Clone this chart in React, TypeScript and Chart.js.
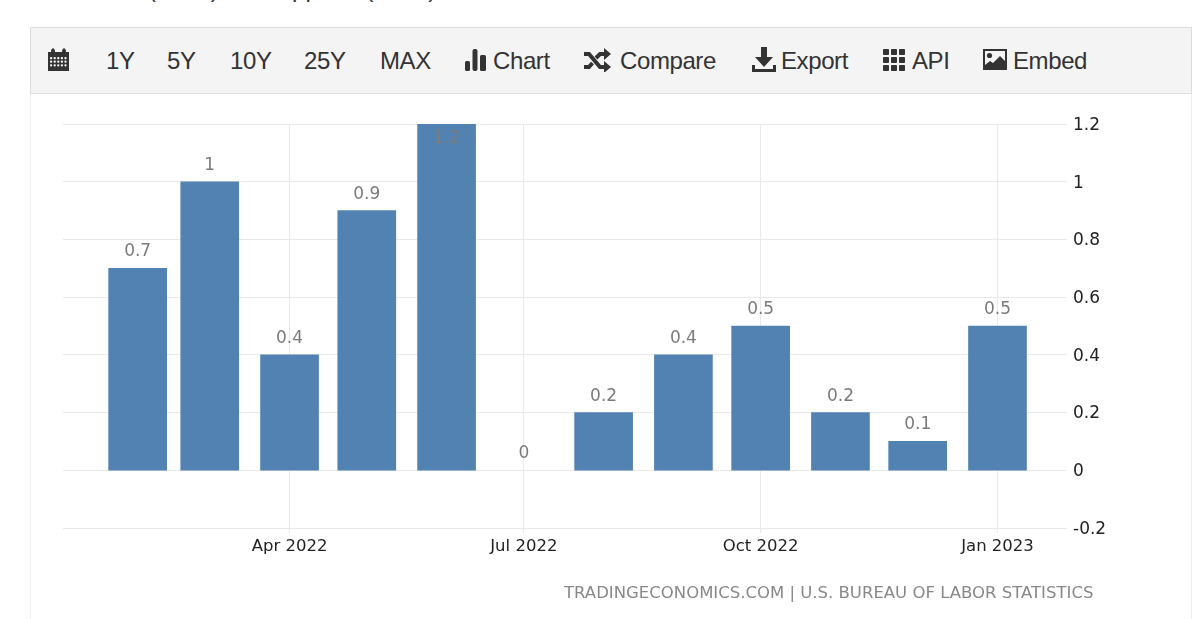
import React, { useEffect, useRef } from "react";
import { Chart, registerables } from "chart.js";

Chart.register(...registerables);

const months = ["2022-02-01","2022-03-01","2022-04-01","2022-05-01","2022-06-01","2022-07-01","2022-08-01","2022-09-01","2022-10-01","2022-11-01","2022-12-01","2023-01-01"];
const values = [0.7, 1, 0.4, 0.9, 1.2, 0, 0.2, 0.4, 0.5, 0.2, 0.1, 0.5];
const xTicks = ["2022-04-01", "2022-07-01", "2022-10-01", "2023-01-01"];
const xTickLabels = ["Apr 2022", "Jul 2022", "Oct 2022", "Jan 2023"];
const xRange = ["2022-01-03", "2023-01-28"];
const tools = ["1Y", "5Y", "10Y", "25Y", "MAX", "Chart", "Compare", "Export", "API", "Embed"];
const source = "TRADINGECONOMICS.COM | U.S. BUREAU OF LABOR STATISTICS";
const clippedHeadline = "(0.7%), and apparel (0.8%)";

const ms = (s: string) => Date.parse(s + "T00:00:00Z");
const FONT = "'DejaVu Sans'";
const BAR = "#5282b2";
const GRID = "#e9e9e9";

const valueLabels = {
  id: "valueLabels",
  afterDatasetsDraw(chart: any) {
    const { ctx } = chart;
    const meta = chart.getDatasetMeta(0);
    ctx.save();
    ctx.font = `17px ${FONT}`;
    ctx.fillStyle = "#7b7b7b";
    ctx.textAlign = "center";
    ctx.textBaseline = "alphabetic";
    meta.data.forEach((el: any, i: number) => {
      ctx.fillText(String(values[i]), el.x, Math.max(el.y - 12, 143));
    });
    ctx.restore();
  },
};

const txt = (x: number, label: string, y = 69) => (
  <span key={label} style={{ position: "absolute", left: x, top: y - 22, fontSize: 24, lineHeight: "28px", color: "#333", whiteSpace: "nowrap", letterSpacing: -0.4 }}>{label}</span>
);

const icon = (x: number, y: number, w: number, h: number, body: React.ReactNode) => (
  <svg style={{ position: "absolute", left: x, top: y }} width={w} height={h} viewBox={`0 0 ${w} ${h}`} fill="#333">{body}</svg>
);

export default function App() {
  const ref = useRef<HTMLCanvasElement>(null);
  useEffect(() => {
    const chart = new Chart(ref.current!, {
      type: "bar",
      data: {
        datasets: [{
          data: months.map((m, i) => ({ x: ms(m), y: values[i] })),
          backgroundColor: (c: any) => (c.raw && c.raw.y === 0 ? "rgba(0,0,0,0)" : BAR),
          barThickness: 58,
        }],
      },
      plugins: [valueLabels],
      options: {
        animation: false,
        responsive: false,
        layout: { padding: { left: 63, top: 124, right: 0, bottom: 0 } },
        plugins: { legend: { display: false }, tooltip: { enabled: false } },
        scales: {
          x: {
            type: "linear",
            offset: false,
            min: ms(xRange[0]),
            max: ms(xRange[1]),
            afterBuildTicks: (a: any) => { a.ticks = xTicks.map((t) => ({ value: ms(t) })); },
            afterFit: (a: any) => { a.height = 91; },
            grid: { color: GRID, lineWidth: 1, tickLength: 5, offset: false },
            border: { display: false },
            ticks: {
              autoSkip: false, maxRotation: 0, padding: 4, color: "#222",
              font: { family: FONT, size: 16.5 },
              callback: (v: any) => xTickLabels[xTicks.findIndex((t) => ms(t) === v)],
            },
          },
          y: {
            position: "right",
            min: -0.2,
            max: 1.2,
            afterFit: (a: any) => { a.width = 133; },
            grid: { color: GRID, lineWidth: 1, drawTicks: false },
            border: { display: false },
            ticks: {
              stepSize: 0.2, padding: 6, color: "#222", labelOffset: 1.5,
              font: { family: FONT, size: 17 },
              callback: (v: any) => String(Math.round(Number(v) * 10) / 10),
            },
          },
        },
      },
    } as any);
    return () => chart.destroy();
  }, []);

  const squares = (x0: number, y0: number, n: number, s: number, g: number) => {
    const out: React.ReactNode[] = [];
    for (let r = 0; r < n; r++) for (let c = 0; c < n; c++) out.push(<rect key={`${r}-${c}`} x={x0 + c * (s + g)} y={y0 + r * (s + g)} width={s} height={s} rx={0.8} />);
    return out;
  };

  return (
    <div style={{ position: "absolute", left: 0, top: 0, width: 1200, height: 619, overflow: "hidden", background: "#fff", fontFamily: "'Liberation Sans', Arial, sans-serif" }}>
      <div style={{ position: "absolute", left: 148, top: -25.5, fontSize: 24, lineHeight: "28px", color: "#333", whiteSpace: "nowrap" }}>{clippedHeadline}</div>
      <div style={{ position: "absolute", left: 30, top: 94, width: 1, height: 525, background: "#efefef" }} />
      <div style={{ position: "absolute", left: 1191, top: 94, width: 1, height: 525, background: "#efefef" }} />
      <canvas ref={ref} width={1200} height={619} style={{ position: "absolute", left: 0, top: 0, width: 1200, height: 619 }} />
      <div style={{ position: "absolute", left: 30, top: 27, width: 1160, height: 65, background: "#f4f4f4", border: "1.5px solid #dddddd", boxSizing: "content-box" }} />
      {txt(106, tools[0])}{txt(167, tools[1])}{txt(230, tools[2])}{txt(304, tools[3])}{txt(380, tools[4])}
      {txt(493, tools[5])}{txt(620, tools[6])}{txt(781, tools[7])}{txt(912, tools[8])}{txt(1013, tools[9])}
      {icon(47, 46, 23, 26, <>
        <path d="M1 6h3c0-5 4-5 4 0h7c0-5 4-5 4 0h3v4H1z" />
        <rect x={1} y={9} width={21} height={16} />
        <g fill="#f4f4f4">{squares(3, 11, 5, 2.2, 1.4).slice(0, 15)}</g>
      </>)}
      {icon(465, 49, 22, 22, <>
        <rect x={0} y={12} width={5} height={10} rx={1.5} /><rect x={7.5} y={0} width={5} height={22} rx={2} /><rect x={15} y={6} width={6} height={16} rx={1.5} />
      </>)}
      {icon(584, 48, 28, 24, <>
        <path d="M0 6h5l11 13h5" fill="none" stroke="#333" strokeWidth={4} />
        <path d="M0 19h5l3.5-4M12 10l4-4h5" fill="none" stroke="#333" strokeWidth={4} />
        <path d="M20 0l7 6-7 6zM20 13l7 6-7 6z" />
      </>)}
      {icon(752, 47, 24, 26, <>
        <path d="M9 0h6v10h6l-9 10-9-10h6z" />
        <path d="M0 18h3v4h18v-4h3v7H0z" />
      </>)}
      {icon(883, 49, 22, 22, <>{squares(0, 0, 3, 6, 2)}</>)}
      {icon(983, 49, 24, 22, <>
        <path fillRule="evenodd" d="M0 0h24v21H0zM2 2v17h20V2z" />
        <circle cx={6.5} cy={6.5} r={2.6} />
        <path d="M2 19v-3l5-4 3 2 7-7 5 5v7z" />
      </>)}
      <div style={{ position: "absolute", left: 564, top: 583, fontFamily: FONT, fontSize: 16.5, lineHeight: "20px", color: "#888", whiteSpace: "nowrap" }}>{source}</div>
    </div>
  );
}
